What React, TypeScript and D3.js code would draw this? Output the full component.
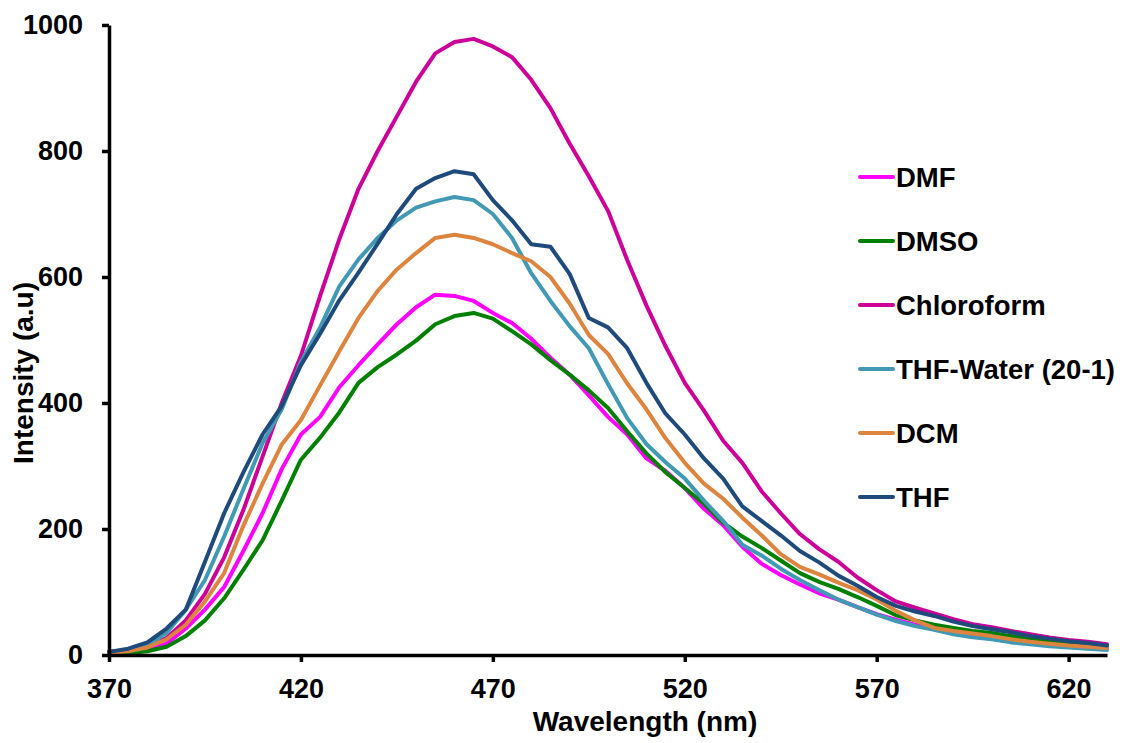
import React, { useEffect, useRef } from "react";
import * as d3 from "d3";

const wavelengths = [
  370, 375, 380, 385, 390, 395, 400, 405, 410, 415, 420, 425, 430, 435, 440, 445, 450, 455,
  460, 465, 470, 475, 480, 485, 490, 495, 500, 505, 510, 515, 520, 525, 530, 535, 540, 545,
  550, 555, 560, 565, 570, 575, 580, 585, 590, 595, 600, 605, 610, 615, 620, 625, 630,
];

const dmf = [
  2, 4, 8, 18, 42, 72, 108, 165, 225, 295, 350, 378, 425, 460, 493, 525, 552, 572,
  570, 562, 543, 527, 502, 472, 445, 412, 378, 350, 312, 292, 265, 232, 206, 172, 145, 127,
  112, 98, 88, 76, 65, 56, 48, 41, 35, 31, 28, 24, 20, 17, 14, 12, 10,
];

const dmso = [
  1, 3, 6, 13, 30, 55, 90, 135, 182, 245, 310, 345, 385, 432, 457, 477, 499, 525,
  538, 543, 534, 514, 493, 468, 445, 420, 392, 355, 320, 290, 265, 240, 210, 188, 170, 150,
  130, 116, 105, 92, 78, 63, 55, 48, 43, 38, 35, 30, 26, 22, 19, 16, 13,
];

const chloroform = [
  5, 8, 14, 27, 55, 97, 155, 230, 315, 400, 475, 570, 660, 740, 800, 855, 910, 955,
  973, 978, 966, 949, 913, 868, 812, 760, 705, 627, 555, 490, 432, 388, 340, 305, 260, 225,
  192, 168, 148, 123, 103, 85, 75, 66, 57, 49, 44, 38, 33, 28, 24, 21, 17,
];

const thfWater = [
  3, 7, 15, 35, 72, 119, 188, 263, 336, 390, 465, 520, 585, 628, 662, 690, 710, 720,
  727, 722, 700, 662, 606, 562, 522, 487, 430, 376, 335, 306, 280, 245, 213, 175, 158, 137,
  119, 103, 88, 76, 64, 54, 46, 40, 33, 28, 25, 20, 17, 14, 12, 10, 8,
];

const dcm = [
  3, 6, 12, 25, 48, 85, 130, 205, 272, 334, 373, 428, 482, 535, 578, 612, 638, 662,
  667, 662, 652, 638, 625, 600, 558, 508, 478, 431, 390, 344, 305, 272, 248, 218, 190, 160,
  140, 128, 115, 103, 88, 70, 55, 43, 38, 34, 30, 25, 21, 18, 15, 13, 11,
];

const thf = [
  5, 10, 20, 42, 72, 148, 225, 290, 350, 395, 460, 510, 563, 607, 653, 700, 740, 757,
  768, 763, 722, 690, 652, 648, 605, 535, 520, 487, 432, 383, 350, 312, 280, 236, 213, 190,
  165, 147, 126, 110, 92, 78, 69, 62, 53, 46, 41, 36, 30, 26, 22, 19, 15,
];

const seriesNames = ["DMF", "DMSO", "Chloroform", "THF-Water (20-1)", "DCM", "THF"];
const seriesValues = [dmf, dmso, chloroform, thfWater, dcm, thf];
const seriesColors = ["#FF00FF", "#008000", "#CC0099", "#4299B4", "#DD843F", "#1F4A7C"];

const xTicks = [370, 420, 470, 520, 570, 620];
const yTicks = [0, 200, 400, 600, 800, 1000];

const FONT = "'Liberation Sans', Arial, sans-serif";

const App = () => {
  const ref = useRef<SVGSVGElement>(null);

  useEffect(() => {
    const svg = d3.select(ref.current);
    svg.selectAll("*").remove();

    const width = 1122;
    const height = 743;
    const left = 109;
    const right = 1107;
    const top = 25;
    const bottom = 655;

    svg.attr("width", width).attr("height", height);

    const x = d3.scaleLinear().domain([370, 630]).range([left, right]);
    const y = d3.scaleLinear().domain([0, 1000]).range([bottom, top]);

    // lines
    const line = d3
      .line<number>()
      .x((_, i) => x(wavelengths[i]))
      .y((d) => y(d))
      .curve(d3.curveLinear);

    svg
      .append("g")
      .selectAll("path")
      .data(seriesValues)
      .enter()
      .append("path")
      .attr("d", (d) => line(d))
      .attr("fill", "none")
      .attr("stroke", (_, i) => seriesColors[i])
      .attr("stroke-width", 4)
      .attr("stroke-linejoin", "round")
      .attr("stroke-linecap", "round");

    // axes
    const yAxis = svg
      .append("g")
      .attr("transform", `translate(${left},0)`)
      .call(
        d3.axisLeft(y).tickValues(yTicks).tickSize(7).tickSizeOuter(0).tickPadding(19).tickFormat(d3.format("d"))
      );

    const xAxis = svg
      .append("g")
      .attr("transform", `translate(0,${bottom})`)
      .call(
        d3.axisBottom(x).tickValues(xTicks).tickSize(7).tickSizeOuter(0).tickPadding(17).tickFormat(d3.format("d"))
      );

    [xAxis, yAxis].forEach((g) => {
      g.select(".domain").attr("stroke", "#000").attr("stroke-width", 3.5);
      g.selectAll(".tick line").attr("stroke", "#000").attr("stroke-width", 3.5);
      g.selectAll(".tick text")
        .attr("fill", "#000")
        .style("font-family", FONT)
        .style("font-size", "27px")
        .style("font-weight", "bold");
    });

    // axis titles
    svg
      .append("text")
      .attr("x", 645)
      .attr("y", 731)
      .attr("text-anchor", "middle")
      .style("font-family", FONT)
      .style("font-size", "28px")
      .style("font-weight", "bold")
      .text("Wavelength (nm)");

    svg
      .append("text")
      .attr("transform", "translate(33,373) rotate(-90)")
      .attr("text-anchor", "middle")
      .style("font-family", FONT)
      .style("font-size", "28px")
      .style("font-weight", "bold")
      .text("Intensity (a.u)");

    // legend
    const legend = svg
      .append("g")
      .selectAll("g")
      .data(seriesNames)
      .enter()
      .append("g")
      .attr("transform", (_, i) => `translate(860,${177 + i * 64})`);

    legend
      .append("line")
      .attr("x1", 0)
      .attr("x2", 33)
      .attr("stroke", (_, i) => seriesColors[i])
      .attr("stroke-width", 4)
      .attr("stroke-linecap", "round");

    legend
      .append("text")
      .attr("x", 36)
      .attr("dy", "0.35em")
      .style("font-family", FONT)
      .style("font-size", "27.5px")
      .style("font-weight", "bold")
      .text((d) => d);
  }, []);

  return (
    <div style={{ position: "absolute", left: 0, top: 0 }}>
      <svg ref={ref}></svg>
    </div>
  );
};

export default App;
